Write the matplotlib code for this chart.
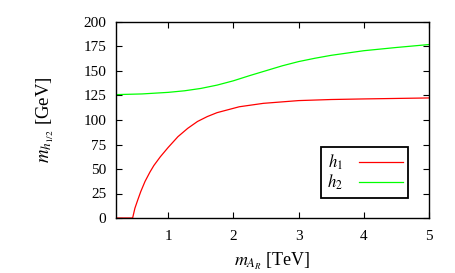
import matplotlib
matplotlib.use("Agg")
import matplotlib.pyplot as plt

plt.rcParams['font.family'] = ['Liberation Serif', 'DejaVu Serif']
plt.rcParams['mathtext.fontset'] = 'stix'

# data
x_h1 = [0.2, 0.455, 0.49, 0.534, 0.58, 0.645, 0.72, 0.78, 0.88, 1.0, 1.15, 1.3, 1.45,
        1.6, 1.75, 2.09, 2.46, 3.0, 3.5, 4.0, 4.5, 5.0]
y_h1 = [0.0, 0.0, 10.0, 18.5, 27.0, 37.3, 46.8, 53.5, 62.5, 72.0, 83.0, 91.5, 98.5,
        103.5, 107.5, 113.5, 117.0, 119.8, 120.9, 121.5, 122.0, 122.5]

x_h2 = [0.2, 0.6, 1.0, 1.25, 1.5, 1.75, 2.0, 2.25, 2.5, 2.75, 3.0, 3.25, 3.5, 4.0, 4.5, 5.0]
y_h2 = [125.9, 126.6, 128.2, 129.8, 132.2, 135.6, 140.0, 145.3, 150.3, 155.3, 159.6,
        163.0, 166.0, 170.7, 174.0, 177.0]

labels = [r'$h_1$', r'$h_2$']
colors = ['#ff0000', '#00ff00']
xticks = [1, 2, 3, 4, 5]
yticks = [0, 25, 50, 75, 100, 125, 150, 175, 200]

fig = plt.figure(figsize=(4.56, 2.73), dpi=100)
ax = fig.add_axes([116/456, 55/273, 313/456, 196/273])

ax.plot(x_h1, y_h1, color=colors[0], lw=0.9, label=labels[0])
ax.plot(x_h2, y_h2, color=colors[1], lw=0.9, label=labels[1])

ax.set_xlim(0.2, 5)
ax.set_ylim(0, 200)
ax.set_xticks(xticks)
ax.set_yticks(yticks)
ax.tick_params(direction='in', top=True, right=True, length=4.5, width=0.8,
               labelsize=11, pad=7)
ax.tick_params(axis='x', pad=9)
for s in ax.spines.values():
    s.set_linewidth(1.0)

ax.set_xlabel(r'$m_{A_R}$ [TeV]', fontsize=13, labelpad=5)
ax.set_ylabel(r'$m_{h_{1/2}}$ [GeV]', fontsize=13.5, labelpad=20)

leg = ax.legend(loc='upper left', bbox_to_anchor=(321/456, (273-146.7)/273),
                bbox_transform=fig.transFigure, markerfirst=False, fancybox=False,
                framealpha=1, edgecolor='black', fontsize=12, handlelength=2.6,
                borderpad=0.35, labelspacing=0.05, handletextpad=1.0,
                borderaxespad=0)
leg.get_frame().set_linewidth(1.3)

fig.savefig('out.png', dpi=100)
